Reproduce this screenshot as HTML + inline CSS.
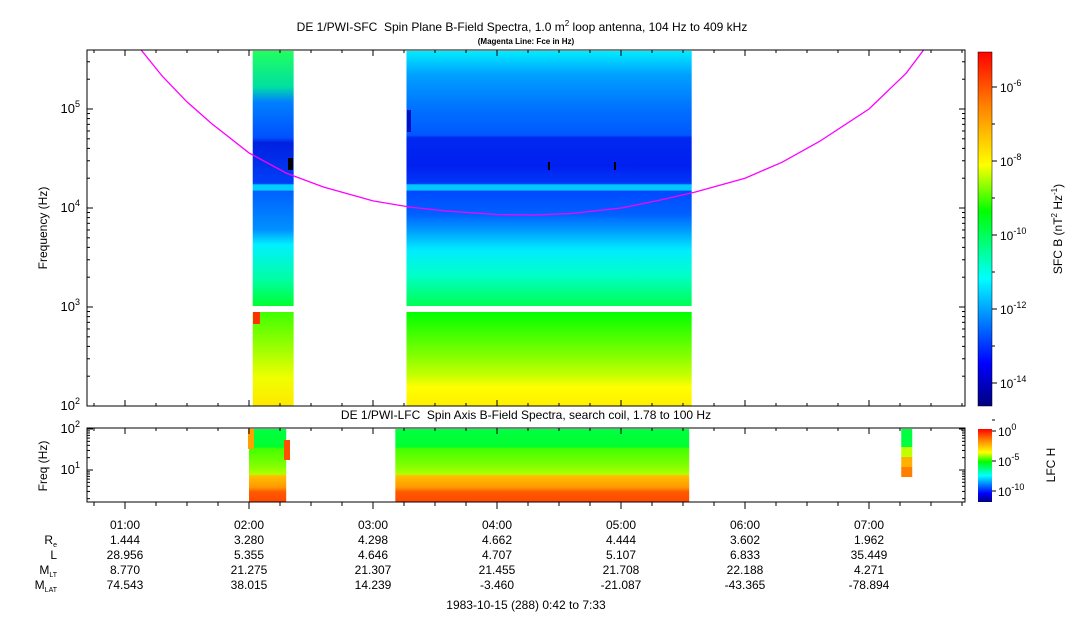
<!DOCTYPE html>
<html><head><meta charset="utf-8"><style>
body{margin:0;background:#fff;width:1083px;height:620px;overflow:hidden}
svg{display:block;font-family:"Liberation Sans",sans-serif;font-size:12px}
text{fill:#000;white-space:pre}
</style></head><body>
<svg id="s" width="1083" height="620" xmlns="http://www.w3.org/2000/svg">
<defs>
<linearGradient id="cb" x1="0" y1="1" x2="0" y2="0">
<stop offset="0" stop-color="#00007f"/><stop offset="0.12" stop-color="#0000ff"/><stop offset="0.36" stop-color="#00ffff"/><stop offset="0.55" stop-color="#00ff00"/><stop offset="0.68" stop-color="#ffff00"/><stop offset="0.85" stop-color="#ff8000"/><stop offset="1" stop-color="#ff0000"/></linearGradient>
<linearGradient id="gBup" x1="0" y1="0" x2="0" y2="1">
<stop offset="0" stop-color="#00ecff"/><stop offset="0.035" stop-color="#00d0ff"/><stop offset="0.094" stop-color="#00a0ff"/><stop offset="0.23" stop-color="#0070ff"/><stop offset="0.33" stop-color="#0058ff"/><stop offset="0.34" stop-color="#0028f0"/><stop offset="0.45" stop-color="#0020f0"/><stop offset="0.52" stop-color="#0038f8"/><stop offset="0.525" stop-color="#00c8ff"/><stop offset="0.545" stop-color="#00c8ff"/><stop offset="0.55" stop-color="#0048ff"/><stop offset="0.64" stop-color="#0060ff"/><stop offset="0.70" stop-color="#0098ff"/><stop offset="0.78" stop-color="#00ecff"/><stop offset="0.88" stop-color="#00ffc8"/><stop offset="1" stop-color="#00ff50"/></linearGradient>
<linearGradient id="gAup" x1="0" y1="0" x2="0" y2="1">
<stop offset="0" stop-color="#20ff60"/><stop offset="0.14" stop-color="#00e0a0"/><stop offset="0.2" stop-color="#0080ff"/><stop offset="0.34" stop-color="#0050ff"/><stop offset="0.36" stop-color="#0020e0"/><stop offset="0.52" stop-color="#0040f8"/><stop offset="0.525" stop-color="#00d0ff"/><stop offset="0.545" stop-color="#00d0ff"/><stop offset="0.55" stop-color="#0060ff"/><stop offset="0.7" stop-color="#0090ff"/><stop offset="0.76" stop-color="#00f0ff"/><stop offset="0.9" stop-color="#00ffa0"/><stop offset="1" stop-color="#00ff30"/></linearGradient>
<linearGradient id="gBlo" x1="0" y1="0" x2="0" y2="1">
<stop offset="0" stop-color="#00ff00"/><stop offset="0.45" stop-color="#80ff00"/><stop offset="0.68" stop-color="#c8ff00"/><stop offset="0.8" stop-color="#ffff00"/><stop offset="1" stop-color="#ffef00"/></linearGradient>
<linearGradient id="gAlo" x1="0" y1="0" x2="0" y2="1">
<stop offset="0" stop-color="#40ff00"/><stop offset="0.4" stop-color="#a0ff00"/><stop offset="0.7" stop-color="#f0ff00"/><stop offset="1" stop-color="#ffe800"/></linearGradient>
<linearGradient id="gL" x1="0" y1="0" x2="0" y2="1">
<stop offset="0" stop-color="#00ff40"/><stop offset="0.25" stop-color="#00ff30"/><stop offset="0.26" stop-color="#40ff00"/><stop offset="0.5" stop-color="#80ff00"/><stop offset="0.62" stop-color="#b0ff00"/><stop offset="0.64" stop-color="#ffc000"/><stop offset="0.8" stop-color="#ff9800"/><stop offset="0.86" stop-color="#ff5a00"/><stop offset="1" stop-color="#ff4800"/></linearGradient>
</defs>
<g id="g"></g>
</svg>
<script>
const NS="http://www.w3.org/2000/svg";
const g=document.getElementById('g');
// data
const hourTicks=[1,2,3,4,5,6,7];
const hourLabels=["01:00","02:00","03:00","04:00","05:00","06:00","07:00"];
const rowNames=["Re","L","MLT","MLAT"];
const reVals=["1.444","3.280","4.298","4.662","4.444","3.602","1.962"];
const lVals=["28.956","5.355","4.646","4.707","5.107","6.833","35.449"];
const mltVals=["8.770","21.275","21.307","21.455","21.708","22.188","4.271"];
const mlatVals=["74.543","38.015","14.239","-3.460","-21.087","-43.365","-78.894"];
const fceHours=[1.12,1.3,1.5,1.7,2.0,2.3,2.6,3.0,3.3,3.6,4.0,4.3,4.6,5.0,5.3,5.6,6.0,6.3,6.6,7.0,7.3,7.45];
const fceHz=[409000,215000,118000,71000,36000,22500,16300,11800,10200,9300,8600,8500,8800,10000,11900,14500,20000,29000,47000,100000,230000,409000];
// axes
const x0=87,x1=965,pxH=124,xref=125;
const X=h=>xref+(h-1)*pxH;
const Ytop=lf=>406-(lf-2)*99;
const Ybot=lf=>429+(2-lf)*41;
function el(t,a,txt,p){const e=document.createElementNS(NS,t);for(const k in a)e.setAttribute(k,a[k]);if(txt!=null)e.textContent=txt;(p||g).appendChild(e);return e;}
let e;
e=el('rect',{x:X(2.03),y:51,width:X(2.36)-X(2.03),height:255,fill:'url(#gAup)'});

e=el('rect',{x:X(3.27),y:51,width:X(5.57)-X(3.27),height:255,fill:'url(#gBup)'});

e=el('rect',{x:X(2.03),y:312,width:X(2.36)-X(2.03),height:94,fill:'url(#gAlo)'});

e=el('rect',{x:X(3.27),y:312,width:X(5.57)-X(3.27),height:94,fill:'url(#gBlo)'});

el('rect',{x:253,y:312,width:7,height:12,fill:'#ff3000'});
el('rect',{x:407,y:110,width:4,height:22,fill:'#0010c0'});
el('rect',{x:288,y:158,width:5,height:12,fill:'#000'});
el('rect',{x:548,y:162,width:2,height:8,fill:'#000'});
el('rect',{x:614,y:162,width:2,height:8,fill:'#000'});
// LFC blocks
e=el('rect',{x:X(2.0),y:429,width:X(2.3)-X(2.0),height:73,fill:'url(#gL)'});

e=el('rect',{x:X(3.18),y:429,width:X(5.55)-X(3.18),height:73,fill:'url(#gL)'});

e=el('rect',{x:X(7.26),y:429,width:11,height:18,fill:'#00ff40'});

el('rect',{x:X(7.26),y:447,width:11,height:10,fill:'#c0ff00'});
el('rect',{x:X(7.26),y:457,width:11,height:10,fill:'#ffb000'});
el('rect',{x:X(7.26),y:467,width:11,height:10,fill:'#ff8000'});
el('rect',{x:248,y:429,width:6,height:20,fill:'#ffa000'});
el('rect',{x:284,y:440,width:6,height:20,fill:'#ff5000'});
// Fce curve
let d='';
fceHours.forEach((h,i)=>{d+=(i?'L':'M')+X(h).toFixed(1)+','+Ytop(Math.log10(fceHz[i])).toFixed(1);});
const clip=el('clipPath',{id:'pc'});el('rect',{x:x0,y:50,width:x1-x0,height:356},null,clip);
e=el('path',{d:d,fill:'none',stroke:'#ff00ff','stroke-width':1.3,'clip-path':'url(#pc)'});

// frames
e=el('rect',{x:x0,y:50,width:x1-x0,height:356,fill:'none',stroke:'#000'});

e=el('rect',{x:x0,y:428,width:x1-x0,height:74,fill:'none',stroke:'#000'});

for(let dec=2;dec<=5;dec++){for(let m=1;m<10;m++){const lf=dec+Math.log10(m);const y=Ytop(lf);if(y<50)continue;const L=m==1?6:3;el('line',{x1:x0,x2:x0+L,y1:y,y2:y,stroke:'#000'});el('line',{x1:x1,x2:x1-L,y1:y,y2:y,stroke:'#000'});}
 e=el('text',{x:80,y:Ytop(dec)+4,'text-anchor':'end','font-size':13});e.innerHTML='10<tspan dy="-6" font-size="9">'+dec+'</tspan>';}
for(let dec=0;dec<=2;dec++){for(let m=1;m<10;m++){const lf=dec+Math.log10(m);const y=Ybot(lf);if(y>502||y<428)continue;const L=m==1?6:3;el('line',{x1:x0,x2:x0+L,y1:y,y2:y,stroke:'#000'});el('line',{x1:x1,x2:x1-L,y1:y,y2:y,stroke:'#000'});}}
[1,2].forEach(dec=>{e=el('text',{x:80,y:Ybot(dec)+4,'text-anchor':'end','font-size':13});e.innerHTML='10<tspan dy="-6" font-size="9">'+dec+'</tspan>';});
for(let q=0;q<40;q++){const h=0.75+q*0.25;const x=X(h);if(x<x0||x>x1)continue;const major=Math.abs(h-Math.round(h))<1e-6;
 el('line',{x1:x,x2:x,y1:502,y2:502+(major?7:4),stroke:'#000'});
 el('line',{x1:x,x2:x,y1:406,y2:406-(major?6:3),stroke:'#000'});el('line',{x1:x,x2:x,y1:428,y2:428+(major?6:3),stroke:'#000'});el('line',{x1:x,x2:x,y1:50,y2:50+(major?6:3),stroke:'#000'});}
hourTicks.forEach((h,i)=>{const cx=X(h);
 const rows=[hourLabels[i],reVals[i],lVals[i],mltVals[i],mlatVals[i]];
 rows.forEach((t,r)=>{e=el('text',{x:cx,y:529+r*15,'text-anchor':'middle'},t);});});
e=el('text',{x:57,y:544,'text-anchor':'end'});e.innerHTML='R<tspan font-size="7" dy="3">e</tspan>';
e=el('text',{x:57,y:559,'text-anchor':'end'},'L');
e=el('text',{x:57,y:574,'text-anchor':'end'});e.innerHTML='M<tspan font-size="7" dy="3">LT</tspan>';
e=el('text',{x:57,y:589,'text-anchor':'end'});e.innerHTML='M<tspan font-size="7" dy="3">LAT</tspan>';
e=el('text',{x:526,y:609,'text-anchor':'middle'},'1983-10-15 (288) 0:42 to 7:33');
e=el('text',{x:522,y:31,'text-anchor':'middle'});e.innerHTML='DE 1/PWI-SFC  Spin Plane B-Field Spectra, 1.0 m<tspan dy="-5" font-size="8">2</tspan><tspan dy="5"> loop antenna, 104 Hz to 409 kHz</tspan>';
e=el('text',{x:526,y:44,'text-anchor':'middle','font-size':8,'font-weight':'bold'},'(Magenta Line: Fce in Hz)');
e=el('text',{x:526,y:419,'text-anchor':'middle'},'DE 1/PWI-LFC  Spin Axis B-Field Spectra, search coil, 1.78 to 100 Hz');
e=el('text',{x:47,y:228,'text-anchor':'middle',transform:'rotate(-90 47 228)'},'Frequency (Hz)');
e=el('text',{x:47,y:466,'text-anchor':'middle',transform:'rotate(-90 47 466)'},'Freq (Hz)');
e=el('rect',{x:978,y:52,width:14,height:354,fill:'url(#cb)'});
el('rect',{x:978,y:52,width:14,height:354,fill:'none',stroke:'#000','stroke-width':0.5});
const cbExp=[-6,-8,-10,-12,-14];const cbY=[87,161,235,309,383];
cbExp.forEach((ex,i)=>{el('line',{x1:992,x2:997,y1:cbY[i],y2:cbY[i],stroke:'#000'});el('line',{x1:992,x2:995,y1:cbY[i]+37,y2:cbY[i]+37,stroke:'#000'});
 e=el('text',{x:1000,y:cbY[i]+5,'font-size':12});e.innerHTML='10<tspan dy="-6" font-size="9">'+ex+'</tspan>';});
e=el('text',{x:1062,y:229,'text-anchor':'middle',transform:'rotate(-90 1062 229)'});e.innerHTML='SFC B (nT<tspan dy="-5" font-size="8">2</tspan><tspan dy="5"> Hz</tspan><tspan dy="-5" font-size="8">-1</tspan><tspan dy="5">)</tspan>';
e=el('rect',{x:978,y:429,width:14,height:73,fill:'url(#cb)'});
[0,-5,-10].forEach((ex,i)=>{const y=431+i*30;el('line',{x1:992,x2:996,y1:y,y2:y,stroke:'#000'});
 e=el('text',{x:998,y:y+5,'font-size':12});e.innerHTML='10<tspan dy="-6" font-size="9">'+ex+'</tspan>';});
e=el('text',{x:1055,y:465,'text-anchor':'middle',transform:'rotate(-90 1055 465)'},'LFC H');
</script>
</body></html>
